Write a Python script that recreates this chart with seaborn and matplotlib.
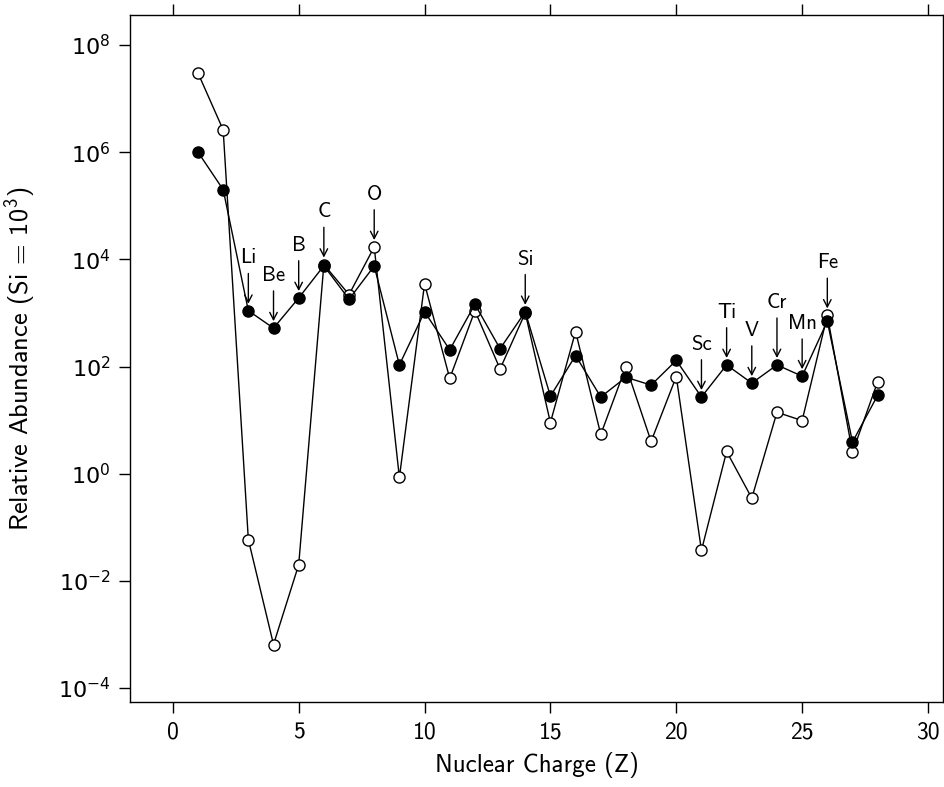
import numpy as np
import pandas as pd
import seaborn as sns
import matplotlib.pyplot as plt
from matplotlib.ticker import NullLocator, FuncFormatter

# Relative abundances (Si = 10^3): galactic cosmic rays vs solar system
z = list(range(1, 29))
cosmic = [1.0e6, 2.0e5, 1.1e3, 5.2e2, 1.9e3, 7.6e3, 1.8e3, 7.5e3, 1.07e2, 1.05e3,
          2.05e2, 1.45e3, 2.15e2, 1.05e3, 2.8e1, 1.6e2, 2.7e1, 6.3e1, 4.5e1, 1.3e2,
          2.7e1, 1.07e2, 4.9e1, 1.07e2, 6.6e1, 7.0e2, 3.9, 2.9e1]
solar = [3.0e7, 2.6e6, 5.9e-2, 6.5e-4, 2.0e-2, 8.0e3, 2.2e3, 1.7e4, 8.5e-1, 3.5e3,
         6.0e1, 1.1e3, 9.0e1, 1.0e3, 9.0, 4.5e2, 5.4, 1.0e2, 4.0, 6.5e1,
         3.7e-2, 2.6, 3.5e-1, 1.4e1, 9.8, 9.0e2, 2.5, 5.2e1]

# labelled elements
labels = ['Li', 'Be', 'B', 'C', 'O', 'Si', 'Sc', 'Ti', 'V', 'Cr', 'Mn', 'Fe']
label_z = [3, 4, 5, 6, 8, 14, 21, 22, 23, 24, 25, 26]

df = pd.DataFrame({'Z': z, 'cosmic': cosmic, 'solar': solar})

sns.set_theme(style='ticks')
plt.rcParams['font.family'] = ['cmss10', 'DejaVu Sans']
plt.rcParams['mathtext.fontset'] = 'dejavusans'
plt.rcParams['axes.edgecolor'] = 'black'
plt.rcParams['axes.linewidth'] = 1.0

fig = plt.figure(figsize=(9.45, 7.87), dpi=100)
ax = fig.add_axes([0.1376, 0.108, 0.8604, 0.873])

sns.lineplot(data=df, x='Z', y='solar', ax=ax, color='black', lw=1,
             marker='o', markersize=8, markerfacecolor='white',
             markeredgecolor='black', markeredgewidth=1)
sns.lineplot(data=df, x='Z', y='cosmic', ax=ax, color='black', lw=1,
             marker='o', markersize=8, markerfacecolor='black',
             markeredgecolor='black', markeredgewidth=1)

ax.set_yscale('log')
ax.set_ylim(10 ** -4.26, 10 ** 8.56)
ax.set_xlim(-1.7, 30.6)
ax.set_yticks([1e-4, 1e-2, 1e0, 1e2, 1e4, 1e6, 1e8])
ax.yaxis.set_minor_locator(NullLocator())
ax.yaxis.set_major_formatter(FuncFormatter(lambda v, p: r'$10^{%d}$' % round(np.log10(v))))
ax.set_xticks([0, 5, 10, 15, 20, 25, 30])

ax.tick_params(axis='x', which='major', direction='out', length=8, width=1,
               top=True, labelsize=17, colors='black', pad=6)
ax.tick_params(axis='y', which='major', direction='out', length=8, width=1,
               right=False, labelsize=16, colors='black', pad=6)

ax.set_xlabel('Nuclear Charge (Z)', fontsize=18, color='black', labelpad=6)
ax.set_ylabel(r'Relative Abundance (Si = $\mathregular{10^3}$)', fontsize=19, color='black')
ax.yaxis.set_label_coords(-0.113, 0.5)

vals = dict(zip(z, np.maximum(cosmic, solar)))
for lab, zz in zip(labels, label_z):
    off = 45 if lab == 'Cr' else 38
    ax.annotate(lab, xy=(zz, vals[zz]), xytext=(0, off), textcoords='offset points',
                ha='center', va='center', fontsize=15, color='black',
                arrowprops=dict(arrowstyle='->,head_length=0.35,head_width=0.18',
                                color='black', lw=1, shrinkA=2, shrinkB=5))

fig.savefig('out.png', dpi=100)
